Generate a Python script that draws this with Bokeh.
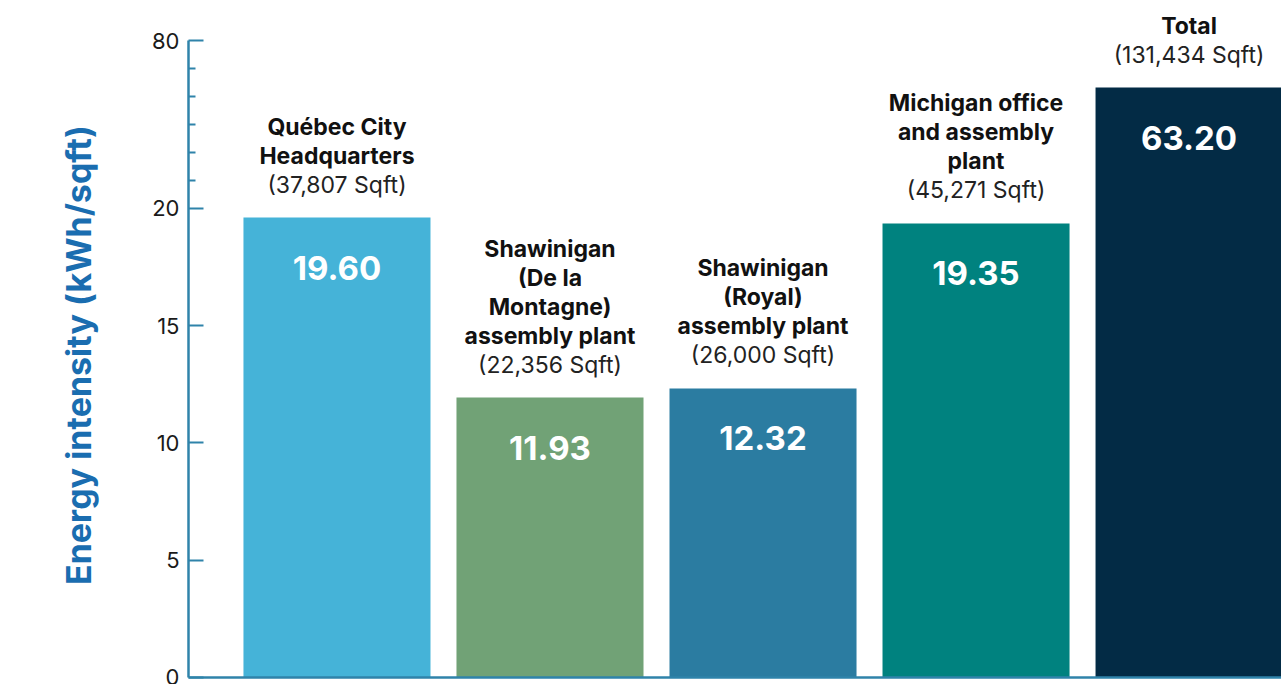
from bokeh.plotting import figure
from bokeh.models import ColumnDataSource, Range1d, FixedTicker
from bokeh.core.properties import value
from bokeh.embed import file_html
from bokeh.resources import INLINE

# ---------------- data ----------------
categories = ["Québec City Headquarters", "Shawinigan (De la Montagne) assembly plant",
              "Shawinigan (Royal) assembly plant", "Michigan office and assembly plant", "Total"]
category_lines = [["Québec City", "Headquarters"],
                  ["Shawinigan", "(De la", "Montagne)", "assembly plant"],
                  ["Shawinigan", "(Royal)", "assembly plant"],
                  ["Michigan office", "and assembly", "plant"],
                  ["Total"]]
areas_sqft = [37807, 22356, 26000, 45271, 131434]
intensity = [19.60, 11.93, 12.32, 19.35, 63.20]
bar_colors = ["#45b3d8", "#71a276", "#2b7ca1", "#00827f", "#032b45"]
major_ticks = [0, 5, 10, 15, 20, 80]
minor_ticks_upper = [30, 40, 50, 60, 70]

# ---------------- broken-axis transform (style) ----------------
BREAK_AT = 20.0
BREAK_SCALE = 0.119  # compression of values above the break


def fy(v):
    return v if v <= BREAK_AT else BREAK_AT + (v - BREAK_AT) * BREAK_SCALE


FONT = "Inter"
xs = list(range(len(categories)))
tops = [fy(v) for v in intensity]

bar_src = ColumnDataSource(dict(x=xs, top=tops, color=bar_colors,
                                label=[f"{v:.2f}" for v in intensity]))

p = figure(width=1281, height=684, output_backend="svg", toolbar_location=None,
           x_range=Range1d(-0.697, 4.434), y_range=Range1d(0, 28.85),
           min_border_left=188, min_border_right=0, min_border_top=0, min_border_bottom=7)
p.outline_line_color = None
p.xgrid.grid_line_color = None
p.ygrid.grid_line_color = None
p.background_fill_color = "white"
p.border_fill_color = "white"

p.vbar(x="x", top="top", bottom=0, width=0.878, color="color", source=bar_src, line_color=None)

# value labels inside bars
p.text(x="x", y="top", text="label", source=bar_src, y_offset=50,
       text_align="center", text_baseline="middle", text_color="white",
       text_font=value(FONT), text_font_style="bold", text_font_size="33px")

# name lines and area lines above bars
nx, ny, ntext, noff = [], [], [], []
ax_, ay, atext = [], [], []
LINE = 29
for i, lines in enumerate(category_lines):
    n = len(lines)
    for k, ln in enumerate(lines):
        nx.append(xs[i]); ny.append(tops[i]); ntext.append(ln)
        noff.append(-(33 + LINE * (n - k)))
    ax_.append(xs[i]); ay.append(tops[i]); atext.append(f"({areas_sqft[i]:,} Sqft)")

name_src = ColumnDataSource(dict(x=nx, y=ny, text=ntext, off=noff))
p.text(x="x", y="y", text="text", y_offset="off", source=name_src,
       text_align="center", text_baseline="middle", text_color="#111111",
       text_font=value(FONT), text_font_style="bold", text_font_size="23px")
area_src = ColumnDataSource(dict(x=ax_, y=ay, text=atext))
p.text(x="x", y="y", text="text", y_offset=-33, source=area_src,
       text_align="center", text_baseline="middle", text_color="#222222",
       text_font=value(FONT), text_font_size="23px")

# y axis
AXIS_COLOR = "#2f83aa"
yax = p.yaxis[0]
yax.ticker = FixedTicker(ticks=[fy(t) for t in major_ticks],
                         minor_ticks=[fy(t) for t in minor_ticks_upper])
yax.major_label_overrides = {fy(t): str(t) for t in major_ticks}
yax.bounds = (0, fy(80))
yax.axis_line_color = AXIS_COLOR
yax.axis_line_width = 2.5
yax.major_tick_line_color = AXIS_COLOR
yax.major_tick_line_width = 2
yax.major_tick_in = 15
yax.major_tick_out = 0
yax.minor_tick_line_color = AXIS_COLOR
yax.minor_tick_line_width = 2
yax.minor_tick_in = 7
yax.minor_tick_out = 0
yax.major_label_standoff = 9
yax.major_label_text_font = FONT
yax.major_label_text_font_size = "22px"
yax.major_label_text_color = "#1a1a1a"
# trailing no-break spaces nudge the centred title down to match the reference
yax.axis_label = "Energy intensity (kWh/sqft)" + "\u00a0" * 4
yax.axis_label_text_font = FONT
yax.axis_label_text_font_style = "bold"
yax.axis_label_text_font_size = "34px"
yax.axis_label_text_color = "#1a6db0"
yax.axis_label_standoff = 50

# x axis: just the baseline
xax = p.xaxis[0]
xax.ticker = FixedTicker(ticks=[])
xax.axis_line_color = AXIS_COLOR
xax.axis_line_width = 2.5
xax.major_tick_line_color = None
xax.minor_tick_line_color = None
xax.major_label_standoff = 0
xax.major_label_text_font_size = "0px"

open("out.html", "w").write(file_html(p, INLINE))
